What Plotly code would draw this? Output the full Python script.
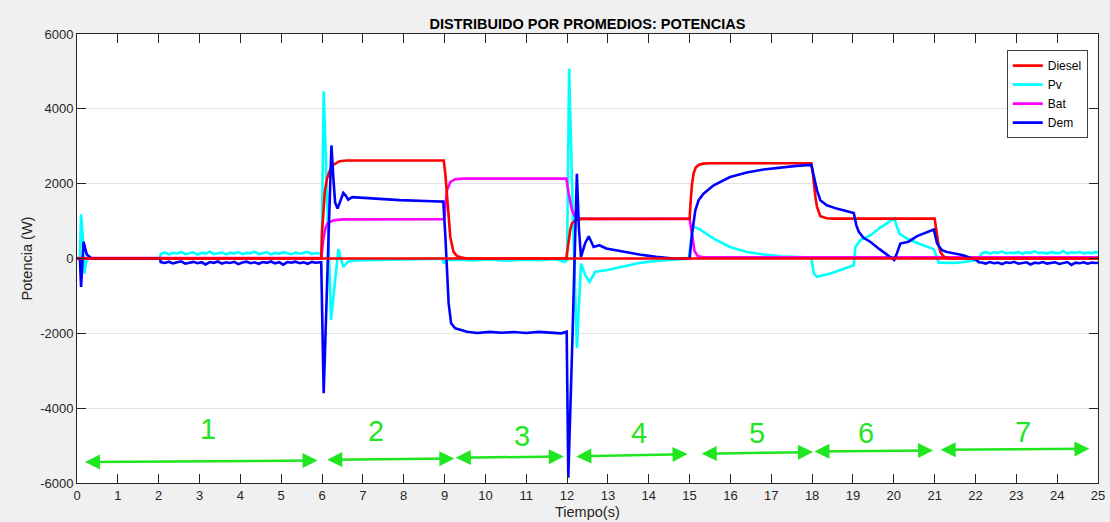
import plotly.graph_objects as go

# ---------------- DATA ----------------
noise_t1 = [2.05, 2.15, 2.25, 2.35, 2.45, 2.55, 2.65, 2.75, 2.85, 2.95,
            3.05, 3.15, 3.25, 3.35, 3.45, 3.55, 3.65, 3.75, 3.85, 3.95,
            4.05, 4.15, 4.25, 4.35, 4.45, 4.55, 4.65, 4.75, 4.85, 4.95,
            5.05, 5.15, 5.25, 5.35, 5.45, 5.55, 5.65, 5.75, 5.85, 5.95]
pv_noise1 = [120, 160, 110, 150, 135, 175, 115, 145, 165, 105,
             150, 130, 185, 120, 140, 160, 110, 155, 130, 170,
             115, 150, 140, 180, 120, 135, 165, 110, 150, 125,
             170, 140, 115, 160, 130, 150, 175, 120, 145, 135]
dem_noise1 = [-95, -120, -85, -130, -100, -75, -140, -105, -90, -125,
              -100, -160, -95, -115, -80, -135, -100, -120, -90, -150,
              -105, -85, -125, -100, -140, -95, -115, -80, -130, -100,
              -165, -95, -110, -85, -125, -100, -140, -90, -115, -100]

noise_t7 = [22.15, 22.25, 22.35, 22.45, 22.55, 22.65, 22.75, 22.85, 22.95, 23.05,
            23.15, 23.25, 23.35, 23.45, 23.55, 23.65, 23.75, 23.85, 23.95, 24.05,
            24.15, 24.25, 24.35, 24.45, 24.55, 24.65, 24.75, 24.85, 24.95]
pv_noise7 = [140, 175, 130, 165, 150, 185, 135, 160, 145, 175,
             125, 165, 150, 190, 140, 160, 130, 175, 150, 140,
             195, 135, 165, 150, 180, 130, 160, 145, 170]
dem_noise7 = [-105, -135, -95, -125, -110, -150, -100, -120, -90, -140,
              -115, -100, -160, -110, -125, -95, -135, -110, -100, -145,
              -120, -95, -170, -110, -125, -100, -140, -110, -120]

pv_t = ([0, 0.07, 0.1, 0.14, 0.18, 0.22, 0.27, 2.03] + noise_t1 +
        [5.99, 6.04, 6.13, 6.22, 6.31, 6.4, 6.52, 6.65, 6.8, 7.0,
         7.5, 8.0, 8.5, 8.95, 8.98, 9.03, 9.3, 9.7, 10.1, 10.5,
         10.9, 11.3, 11.7, 11.95, 12.0, 12.05, 12.14, 12.24, 12.34, 12.45,
         12.55, 12.69, 12.96, 13.37, 13.77, 14.18, 14.6, 14.98, 15.08, 15.26,
         15.59, 15.99, 16.4, 16.81, 17.21, 17.62, 17.98, 18.04, 18.12, 18.45,
         19.02, 19.06, 19.18, 19.43, 19.67, 20.02, 20.06, 20.14, 20.32, 20.65,
         20.98, 21.1, 21.46, 21.87, 22.08] + noise_t7 + [25.0])
pv_v = ([0, 0, 1180, 600, -400, -100, 0, 0] + pv_noise1 +
        [140, 4470, 1500, -1645, -700, 248, -224, -72, -50, -45,
         -35, -25, -15, -5, -133, -40, -30, -55, -25, -60,
         -35, -45, -20, -90, -40, 5080, 1200, -2400, -133, -450,
         -624, -355, -312, -206, -118, -64, -25, 0, 861, 773,
         533, 309, 176, 107, 62, 43, 27, -400, -491, -400,
         -179, 309, 489, 622, 827, 1075, 900, 667, 533, 380,
         250, -110, -118, -72, -20] + pv_noise7 + [155])

bat_t = [0, 5.98, 6.03, 6.08, 6.14, 6.28, 6.5, 8.99, 9.02, 9.06, 9.14, 9.26, 9.45,
         11.98, 12.04, 12.12, 12.18, 12.3, 12.5, 15.0, 15.03, 15.06, 15.12, 15.2, 15.35, 25.0]
bat_v = [10, 10, 500, 800, 950, 1020, 1045, 1050, 1400, 1821, 2043, 2120, 2135,
         2135, 1733, 1288, 1155, 1075, 1060, 1060, 850, 600, 200, 60, 35, 35]

diesel_t = [0, 5.98, 6.0, 6.03, 6.07, 6.12, 6.2, 6.27, 6.43, 6.6,
            8.98, 9.02, 9.06, 9.1, 9.14, 9.22, 9.3, 9.39, 9.55,
            11.98, 12.01, 12.04, 12.08, 12.12, 12.24, 12.4,
            15.0, 15.03, 15.06, 15.1, 15.15, 15.22, 15.33, 15.5,
            17.98, 18.01, 18.04, 18.08, 18.12, 18.2, 18.36, 18.5,
            21.0, 21.03, 21.06, 21.1, 21.14, 21.2, 21.26, 21.4, 25.0]
diesel_v = [0, 0, 700, 1300, 1800, 2130, 2380, 2500, 2600, 2620,
            2620, 2250, 1643, 1050, 576, 176, 70, 35, 0,
            0, 250, 520, 780, 940, 1040, 1060,
            1062, 1600, 2000, 2280, 2430, 2500, 2535, 2545,
            2545, 2350, 2000, 1650, 1376, 1128, 1075, 1065,
            1065, 850, 576, 330, 176, 80, 27, 0, 0]

zero_t = [0, 25]
zero_v = [0, 0]

dem_t = ([0, 0.07, 0.1, 0.16, 0.24, 0.36, 2.03] + noise_t1 +
         [5.98, 6.04, 6.13, 6.23, 6.28, 6.32, 6.38, 6.45, 6.52, 6.58,
          6.64, 6.74, 6.93, 7.1, 7.9, 8.7, 8.97, 9.02, 9.06, 9.1,
          9.16, 9.26, 9.55, 9.8, 10.1, 10.4, 10.7, 11.0, 11.3, 11.6,
          11.86, 11.99, 12.03, 12.14, 12.24, 12.29, 12.34, 12.44, 12.53, 12.65,
          12.79, 12.96, 13.37, 13.77, 14.18, 14.6, 15.0, 15.06, 15.14, 15.22,
          15.34, 15.59, 15.99, 16.4, 16.81, 17.21, 17.62, 17.98, 18.04, 18.12,
          18.2, 18.36, 18.6, 18.85, 19.02, 19.08, 19.14, 19.25, 19.43, 19.65,
          19.84, 20.01, 20.08, 20.16, 20.36, 20.57, 20.98, 21.06, 21.18, 21.3,
          21.7, 22.03, 22.08] + noise_t7 + [25.0])
dem_v = ([0, 0, -757, 443, 108, 0, 0] + dem_noise1 +
         [-100, -3600, -300, 3022, 2100, 1500, 1333, 1550, 1750, 1680,
          1573, 1640, 1626, 1600, 1560, 1530, 1520, 576, -312, -1200,
          -1733, -1867, -1958, -1990, -1960, -1985, -1965, -1990, -1960, -1980,
          -2000, -1958, -5860, -1800, 2267, 800, 43, 400, 595, 309,
          355, 267, 176, 107, 43, 0, 0, 667, 1289, 1556,
          1733, 1956, 2178, 2298, 2378, 2431, 2475, 2502, 2176, 1820,
          1556, 1422, 1333, 1262, 1216, 900, 720, 560, 441, 250,
          89, -40, 150, 400, 450, 600, 775, 400, 222, 176,
          89, -50, -100] + dem_noise7 + [-115])

# stage arrows (start t, start P, end t, end P) and stage labels
arrow_t0 = [0.16, 6.09, 9.24, 12.19, 15.26, 18.02, 21.11]
arrow_v0 = [-5441, -5379, -5326, -5291, -5219, -5158, -5113]
arrow_t1 = [5.89, 9.24, 11.92, 14.95, 18.02, 20.96, 24.79]
arrow_v1 = [-5398, -5345, -5291, -5227, -5174, -5131, -5086]
stage_labels = ["1", "2", "3", "4", "5", "6", "7"]
stage_t = [3.21, 7.33, 10.89, 13.75, 16.66, 19.33, 23.16]
stage_v = [-4560, -4598, -4739, -4667, -4667, -4667, -4640]

x_ticks = list(range(0, 26))
y_ticks = [-6000, -4000, -2000, 0, 2000, 4000, 6000]
y_tick_labels = ["-6000", "-4000", "-2000", "0", "2000", "4000", "6000"]

# ---------------- FIGURE ----------------
FONT = "Liberation Sans, Arial, Helvetica, sans-serif"
GREEN = "#1fe61f"
LW = 2.6

fig = go.Figure()
fig.add_trace(go.Scatter(x=pv_t, y=pv_v, mode="lines", name="Pv",
                         line=dict(color="#00ffff", width=LW), legendrank=2))
fig.add_trace(go.Scatter(x=bat_t, y=bat_v, mode="lines", name="Bat",
                         line=dict(color="#ff00ff", width=LW), legendrank=3))
fig.add_trace(go.Scatter(x=diesel_t, y=diesel_v, mode="lines", name="Diesel",
                         line=dict(color="#ff0000", width=LW), legendrank=1))
fig.add_trace(go.Scatter(x=dem_t, y=dem_v, mode="lines", name="Dem",
                         line=dict(color="#0000ff", width=LW), legendrank=4))
fig.add_trace(go.Scatter(x=zero_t, y=zero_v, mode="lines", name="ref",
                         line=dict(color="#ff0000", width=LW), showlegend=False))

for t0, v0, t1, v1 in zip(arrow_t0, arrow_v0, arrow_t1, arrow_v1):
    fig.add_annotation(x=t1, y=v1, ax=t0, ay=v0, xref="x", yref="y",
                       axref="x", ayref="y", text="", showarrow=True,
                       arrowside="end+start", arrowhead=2, startarrowhead=2,
                       arrowsize=1.2, startarrowsize=1.2, arrowwidth=2.5,
                       arrowcolor=GREEN, standoff=0, startstandoff=0)

for lab, t, v in zip(stage_labels, stage_t, stage_v):
    fig.add_annotation(x=t, y=v, xref="x", yref="y", text=lab, showarrow=False,
                       font=dict(family=FONT, size=29, color=GREEN))

# x-axis title, placed low near the window edge as in the reference
fig.add_annotation(x=0.5, y=-0.0865, xref="paper", yref="paper", text="Tiempo(s)",
                   showarrow=False, xanchor="center", yanchor="bottom",
                   font=dict(family=FONT, size=14.5, color="#262626"))

axis_common = dict(ticks="inside", ticklen=9, tickcolor="#262626", tickwidth=1,
                   showline=True, linecolor="#262626", linewidth=1, mirror="ticks",
                   tickfont=dict(family=FONT, size=13, color="#262626"),
                   zeroline=False, automargin=False)

fig.update_layout(
    width=1110, height=522,
    paper_bgcolor="#f0f0f0", plot_bgcolor="#ffffff",
    margin=dict(l=77, r=12, t=34, b=39),
    font=dict(family=FONT, color="#262626"),
    title=dict(text="<b>DISTRIBUIDO POR PROMEDIOS: POTENCIAS</b>",
               font=dict(family=FONT, size=14.5, color="#000000"),
               x=0.5, xref="paper", xanchor="center",
               y=1 - 23.5 / 522, yref="container", yanchor="middle"),
    xaxis=dict(range=[0, 25], tickvals=x_ticks, showgrid=False, **axis_common),
    yaxis=dict(range=[-6000, 6000], tickvals=y_ticks, ticktext=y_tick_labels,
               showgrid=True, gridcolor="#e3e3e3", gridwidth=1,
               title=dict(text="Potencia (W)", font=dict(family=FONT, size=14.5, color="#262626"),
                          standoff=4),
               **axis_common),
    legend=dict(x=0.990, xanchor="right", y=0.964, yanchor="top",
                bgcolor="#ffffff", bordercolor="#404040", borderwidth=1,
                font=dict(family=FONT, size=12, color="#000000"),
                tracegroupgap=0),
    showlegend=True,
)

fig.write_html(
    "out.html",
    config={"displayModeBar": False},
    post_script="document.body.style.margin='0';document.body.style.background='#f0f0f0';"
                "document.documentElement.style.overflow='hidden';",
)
